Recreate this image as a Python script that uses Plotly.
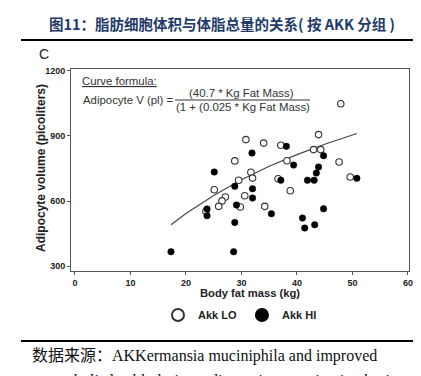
import plotly.graph_objects as go

# Akk LO (open circles)
lo_fat = [30.8, 28.8, 31.7, 29.5, 47.9, 43.9, 34.0, 37.1, 43.0, 44.3, 38.2, 47.6,
          49.6, 36.6, 32.0, 25.1, 30.6, 27.1, 26.5, 25.9, 29.8, 23.6, 38.8, 34.2]
lo_vol = [883, 785, 733, 696, 1048, 906, 867, 857, 837, 837, 786, 780,
          711, 703, 706, 652, 625, 619, 601, 576, 573, 553, 648, 576]

# Akk HI (filled circles)
hi_fat = [31.9, 25.1, 38.1, 44.8, 39.4, 43.9, 43.5, 50.8, 37.1, 41.9, 43.1, 28.8,
          32.0, 32.0, 29.1, 23.8, 23.8, 28.8, 17.3, 28.6, 35.4, 41.0, 44.8, 41.4, 43.2]
hi_vol = [821, 734, 852, 809, 766, 757, 729, 705, 696, 696, 696, 668,
          657, 614, 582, 564, 533, 502, 367, 367, 542, 522, 565, 476, 491]

# fitted curve
curve_fat = [17.3, 20, 25, 30, 35, 40, 45, 50.8]
curve_vol = [491, 543, 626, 698, 760, 814, 862, 911]

x_ticks = [0, 10, 20, 30, 40, 50, 60]
y_ticks = [300, 600, 900, 1200]

FONT = "Liberation Sans, Arial, Helvetica, sans-serif"

# plot area pixels: x 63..401, y 61..263
def px(x):
    return (x - 63) / 338.0

def py(y):
    return (263 - y) / 202.0

fig = go.Figure()
fig.add_trace(go.Scatter(x=curve_fat, y=curve_vol, mode="lines",
                         line=dict(color="#444444", width=1.1), showlegend=False,
                         hoverinfo="skip"))
fig.add_trace(go.Scatter(x=lo_fat, y=lo_vol, mode="markers", name="Akk LO",
                         marker=dict(symbol="circle", size=6.5, color="white",
                                     line=dict(color="#333333", width=1.1))))
fig.add_trace(go.Scatter(x=hi_fat, y=hi_vol, mode="markers", name="Akk HI",
                         marker=dict(symbol="circle", size=6.5, color="black",
                                     line=dict(color="black", width=0.5))))

axis_common = dict(showgrid=False, zeroline=False, showline=True, linecolor="#555555",
                   linewidth=1, mirror=True, ticks="outside", ticklen=3, tickwidth=1,
                   tickcolor="#555555",
                   tickfont=dict(family=FONT, size=9, color="#222222", weight="bold"))

fig.update_xaxes(range=[-0.72, 60.2], tickvals=x_ticks,
                 ticktext=[str(v) for v in x_ticks], **axis_common)
fig.update_yaxes(range=[278.4, 1208], tickvals=y_ticks,
                 ticktext=[str(v) for v in y_ticks], **axis_common)

FS = 11.4
annotations = [
    dict(text="图11：脂肪细胞体积与体脂总量的关系( 按 AKK 分组 )", x=px(214), y=py(15),
         xanchor="center", yanchor="middle",
         font=dict(family="Noto Sans CJK SC, sans-serif", size=14.5, color="#1f3a68",
                   weight="bold")),
    dict(text="C", x=px(35.5), y=py(46.5), xanchor="center", yanchor="middle",
         font=dict(family=FONT, size=14, color="#222222")),
    dict(text="<u>Curve formula:</u>", x=px(111.5), y=py(73), xanchor="center",
         yanchor="middle", font=dict(family=FONT, size=FS, color="#333333")),
    dict(text="Adipocyte V (pl) =", x=px(120), y=py(92), xanchor="center", yanchor="middle",
         font=dict(family=FONT, size=FS, color="#333333")),
    dict(text="(40.7 * Kg Fat Mass)", x=px(233), y=py(85), xanchor="center",
         yanchor="middle", font=dict(family=FONT, size=FS, color="#333333")),
    dict(text="(1 + (0.025 * Kg Fat Mass)", x=px(234.5), y=py(98.5), xanchor="center",
         yanchor="middle", font=dict(family=FONT, size=FS, color="#333333")),
    dict(text="Body fat mass (kg)", x=px(242), y=py(285), xanchor="center",
         yanchor="middle", font=dict(family=FONT, size=11.2, color="#222222", weight="bold")),
    dict(text="Adipocyte volume (picoliters)", x=px(33), y=py(160), xanchor="center",
         yanchor="middle", textangle=-90,
         font=dict(family=FONT, size=12, color="#222222", weight="bold")),
    dict(text="数据来源：AKKermansia muciniphila and improved", x=px(196.5), y=py(348),
         xanchor="center", yanchor="middle",
         font=dict(family="Liberation Serif, Noto Sans CJK SC, serif", size=16,
                   color="#111111")),
    dict(text="metabolic health during a dietary intervention in obesity:", x=px(217),
         y=py(372.5), xanchor="center", yanchor="middle",
         font=dict(family="Liberation Serif, Noto Sans CJK SC, serif", size=16,
                   color="#111111")),
]
for a in annotations:
    a.update(xref="paper", yref="paper", showarrow=False)

shapes = [
    dict(type="line", xref="paper", yref="paper", x0=px(13), x1=px(415), y0=py(32),
         y1=py(32), line=dict(color="black", width=2)),
    dict(type="line", xref="paper", yref="paper", x0=px(13), x1=px(415), y0=py(333),
         y1=py(333), line=dict(color="black", width=2)),
    dict(type="line", xref="paper", yref="paper", x0=px(167), x1=px(302), y0=py(92),
         y1=py(92), line=dict(color="#333333", width=1)),
]

fig.update_layout(
    width=421, height=376,
    margin=dict(l=63, r=20, t=61, b=113, autoexpand=False),
    paper_bgcolor="white", plot_bgcolor="white",
    font=dict(family=FONT),
    annotations=annotations, shapes=shapes,
    showlegend=True,
    legend=dict(orientation="h", x=px(232), y=py(307), xanchor="center", yanchor="middle",
                itemsizing="constant", itemwidth=30,
                font=dict(family=FONT, size=11, color="#222222", weight="bold"),
                bgcolor="rgba(0,0,0,0)"),
)

fig.write_html("out.html")
